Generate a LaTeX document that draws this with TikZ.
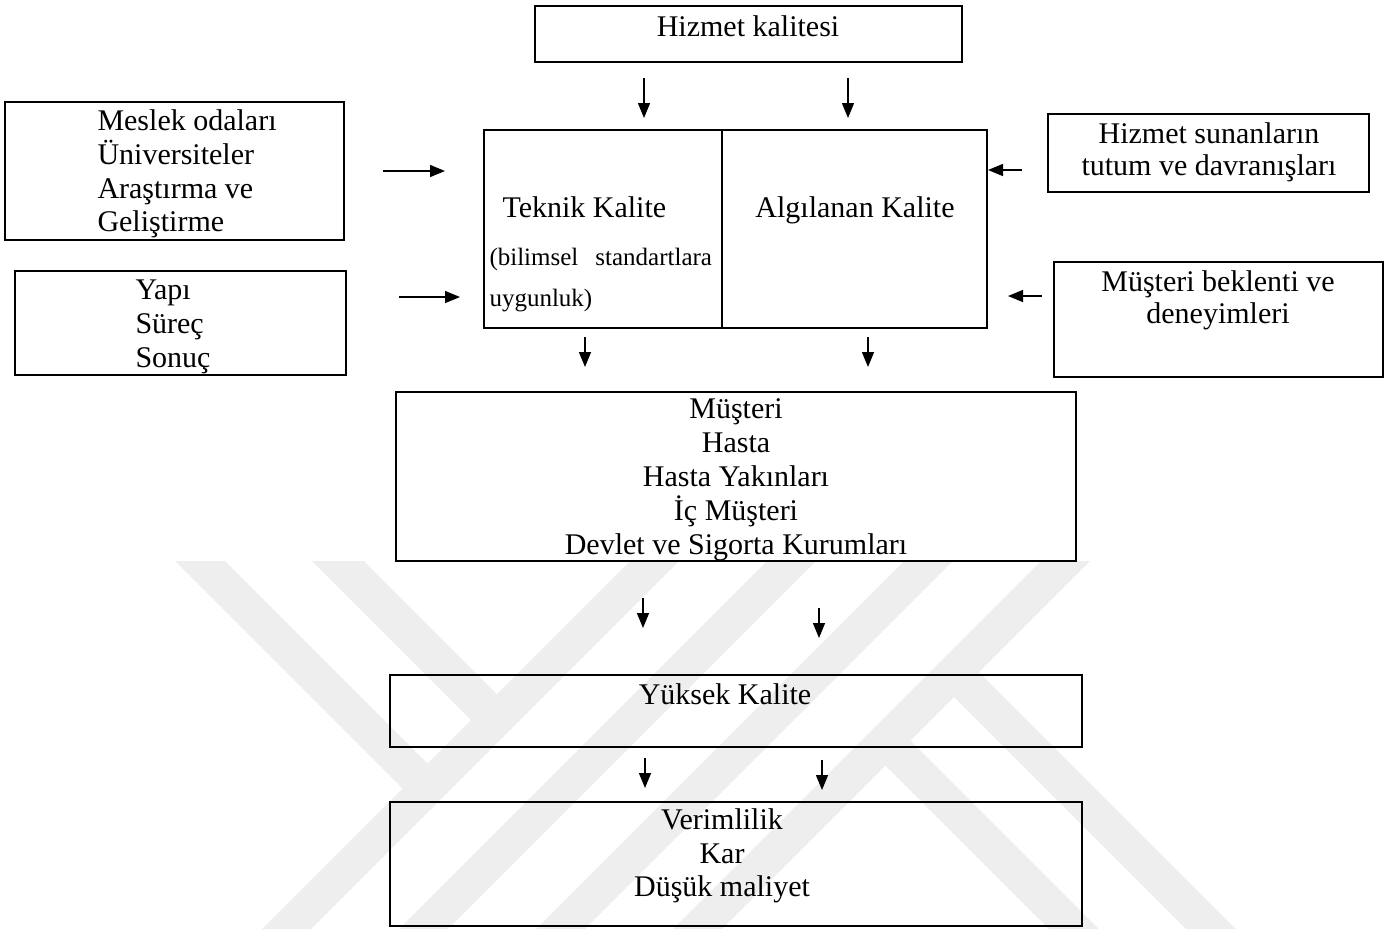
\documentclass[tikz,border=0pt]{standalone}
\usepackage{fontspec}
\setmainfont{Liberation Serif}
\usetikzlibrary{arrows.meta}
\definecolor{wmgray}{gray}{0.935}
\begin{document}
\begin{tikzpicture}[x=0.4pt,y=-0.4pt,
  box/.style={draw=black, line width=0.75pt, rectangle, inner sep=0pt},
  dims/.style 2 args={minimum width=#1*0.4pt, minimum height=#2*0.4pt},
  lbl/.style={inner sep=0pt, font=\fontsize{12}{14}\selectfont},
  small/.style={inner sep=0pt, font=\fontsize{10}{12}\selectfont},
  arr/.style={line width=0.6pt, -{Triangle[length=6pt,width=4.8pt]}},
  band/.style={fill=wmgray, draw=none}]
\useasboundingbox (0,0) rectangle (1400,929);

% faint background emblem made of diagonal stripes
\fill[band] (175,561) -- (225,561) -- (427.5,763.5) -- (402.5,788.5) -- cycle;
\fill[band] (312,561) -- (364,561) -- (497,694) -- (471,720) -- cycle;
\fill[band] (630,561) -- (679,561) -- (311,929) -- (262,929) -- cycle;
\fill[band] (767,561) -- (816,561) -- (448,929) -- (399,929) -- cycle;
\fill[band] (904,561) -- (953,561) -- (585,929) -- (536,929) -- cycle;
\fill[band] (1041,561) -- (1090,561) -- (722,929) -- (673,929) -- cycle;
\fill[band] (885.5,765.5) -- (910.5,740.5) -- (1099,929) -- (1049,929) -- cycle;
\fill[band] (954,697) -- (979,672) -- (1236,929) -- (1186,929) -- cycle;

% boxes
\node[box, dims={427}{56}]  (hk) at (748.5,34) {};
\node[box, dims={339}{138}] (ms) at (174.5,171) {};
\node[box, dims={331}{104}] (ya) at (180.5,323) {};
\node[box, dims={238}{198}] (tk) at (603,229) {};
\node[box, dims={265}{198}] (ak) at (854.5,229) {};
\node[box, dims={321}{78}]  (hs) at (1208.5,153) {};
\node[box, dims={329}{115}] (mb) at (1218.5,319.5) {};
\node[box, dims={680}{169}] (mu) at (736,476.5) {};
\node[box, dims={692}{72}]  (yk) at (736,711) {};
\node[box, dims={692}{124}] (vk) at (736,864) {};

% texts
\node[lbl, anchor=base] (hkt) at (748,36) {Hizmet kalitesi};

\node[lbl, anchor=base west] (ms1) at (97,130) {Meslek odaları};
\node[lbl, anchor=base west] (ms2) at (97,164) {Üniversiteler};
\node[lbl, anchor=base west] (ms3) at (97,198) {Araştırma ve};
\node[lbl, anchor=base west] (ms4) at (97,231) {Geliştirme};

\node[lbl, anchor=base west] (ya1) at (135,299) {Yapı};
\node[lbl, anchor=base west] (ya2) at (135,333) {Süreç};
\node[lbl, anchor=base west] (ya3) at (135,367) {Sonuç};

\node[lbl, anchor=base west] (tk1) at (502,217) {Teknik Kalite};
\node[small, anchor=base west] (tk2) at (489,265) {\makebox[89pt][s]{(bilimsel standartlara}};
\node[small, anchor=base west] (tk3) at (489,306) {uygunluk)};
\node[lbl, anchor=base] (ak1) at (855,217) {Algılanan Kalite};

\node[lbl, anchor=base] (hs1) at (1209,143) {Hizmet sunanların};
\node[lbl, anchor=base] (hs2) at (1209,175) {tutum ve davranışları};

\node[lbl, anchor=base] (mb1) at (1218,291) {Müşteri beklenti ve};
\node[lbl, anchor=base] (mb2) at (1218,323) {deneyimleri};

\node[lbl, anchor=base] (mu1) at (736,418) {Müşteri};
\node[lbl, anchor=base] (mu2) at (736,452) {Hasta};
\node[lbl, anchor=base] (mu3) at (736,486) {Hasta Yakınları};
\node[lbl, anchor=base] (mu4) at (736,520) {İç Müşteri};
\node[lbl, anchor=base] (mu5) at (736,554) {Devlet ve Sigorta Kurumları};

\node[lbl, anchor=base] (yk1) at (725,704) {Yüksek Kalite};

\node[lbl, anchor=base] (vk1) at (722,829) {Verimlilik};
\node[lbl, anchor=base] (vk2) at (722,863) {Kar};
\node[lbl, anchor=base] (vk3) at (722,896) {Düşük maliyet};

% arrow end points
\coordinate (a1s) at (644,78);   \coordinate (a1e) at (644,118);
\coordinate (a2s) at (848,78);   \coordinate (a2e) at (848,118);
\coordinate (a3s) at (383,171);  \coordinate (a3e) at (445,171);
\coordinate (a4s) at (399,297);  \coordinate (a4e) at (460,297);
\coordinate (a5s) at (1022,170); \coordinate (a5e) at (988,170);
\coordinate (a6s) at (1042,296); \coordinate (a6e) at (1008,296);
\coordinate (a7s) at (585,337);  \coordinate (a7e) at (585,367);
\coordinate (a8s) at (868,337);  \coordinate (a8e) at (868,367);
\coordinate (a9s) at (643,598);  \coordinate (a9e) at (643,628);
\coordinate (a10s) at (819,608); \coordinate (a10e) at (819,638);
\coordinate (a11s) at (645,758); \coordinate (a11e) at (645,788);
\coordinate (a12s) at (822,760); \coordinate (a12e) at (822,790);

% arrows
\foreach \i in {1,...,12} \draw[arr] (a\i s) -- (a\i e);
\end{tikzpicture}
\end{document}
